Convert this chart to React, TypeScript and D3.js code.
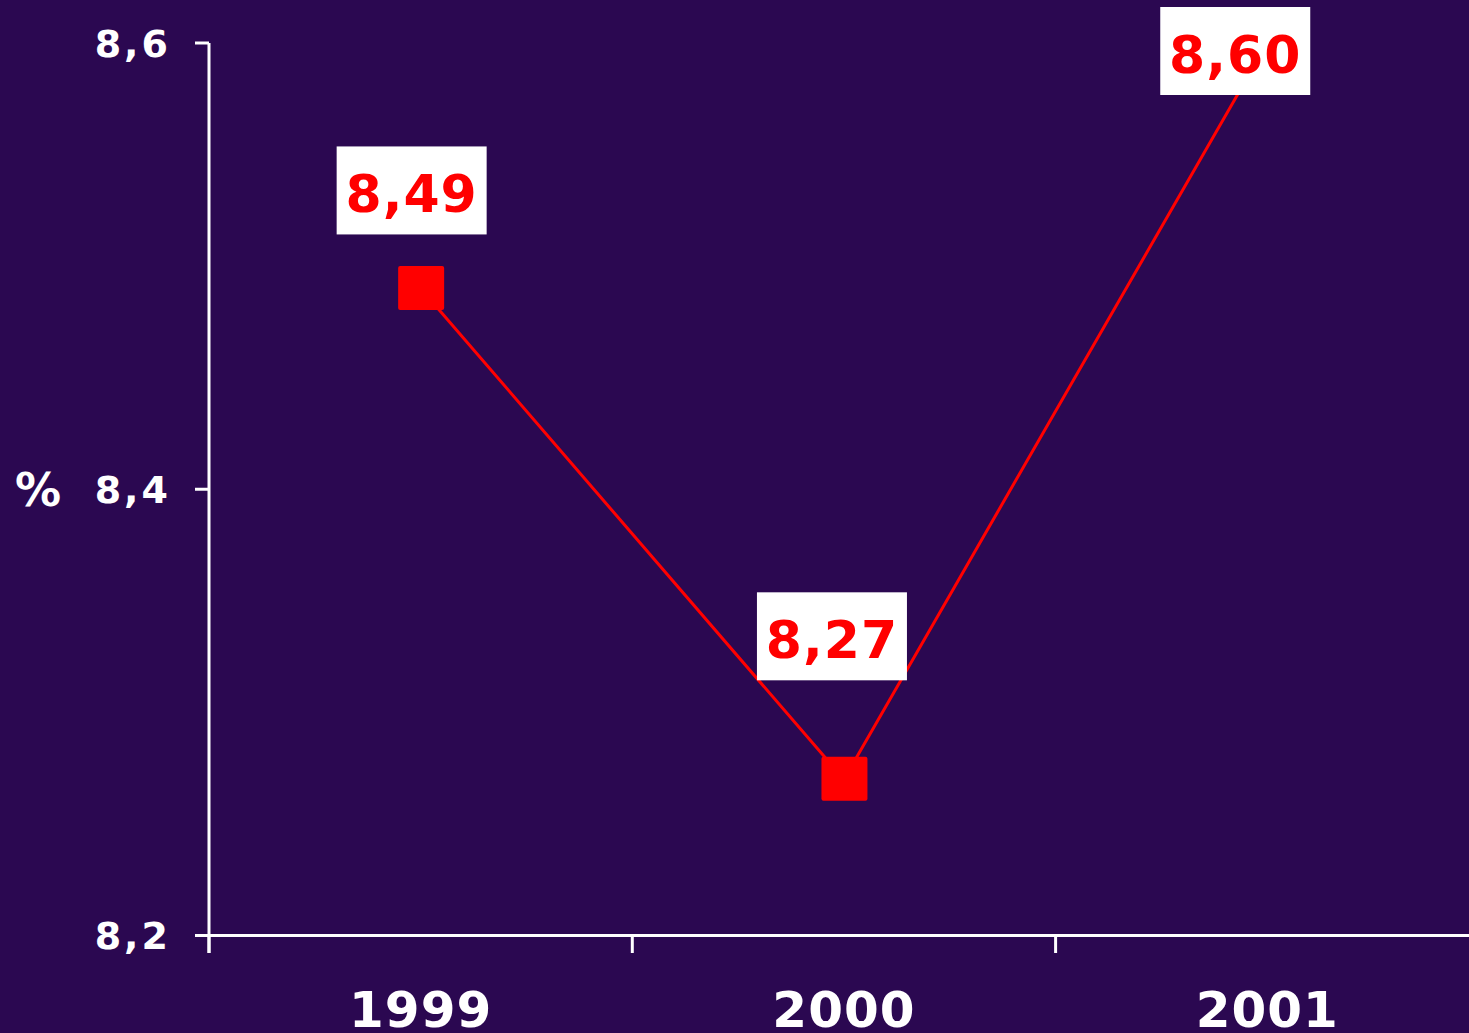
import React, { useEffect } from "react";
import * as d3 from "d3";

const categories = ["1999", "2000", "2001"];
const values = [8.49, 8.27, 8.6];
const valueLabels = ["8,49", "8,27", "8,60"];
const yTicks = [8.2, 8.4, 8.6];
const yTickLabels = ["8,2", "8,4", "8,6"];
const yAxisTitle = "%";
// label box offsets relative to point (style/annotation placement)
const labelDx = [-9, -12, -32];
const labelDy = [-98, -143, 8];

const W = 1469;
const H = 1033;
const BG = "#2B0851";
const FONT = "'DejaVu Sans', Verdana, sans-serif";

export default function App() {
  useEffect(() => {
    document.body.style.margin = "0";
    document.body.style.overflow = "hidden";
  }, []);

  const x0 = 209;
  const band = 423.3;
  const x = d3
    .scaleBand<string>()
    .domain(categories)
    .range([x0, x0 + band * categories.length])
    .padding(0);
  const y = d3.scaleLinear().domain([8.2, 8.6]).range([935.5, 43]);

  const pts = categories.map((c, i) => [x(c)! + x.bandwidth() / 2, y(values[i])] as [number, number]);
  const line = d3.line<[number, number]>()(pts) || "";

  const boxW = 150;
  const boxH = 88;
  const mk = 45;

  return (
    <svg width={W} height={H} style={{ position: "fixed", left: 0, top: 0, display: "block" }} fontFamily={FONT}>
      <rect x={0} y={0} width={W} height={H} fill={BG} />
      {/* y axis */}
      <line x1={x0} x2={x0} y1={y(8.6)} y2={953} stroke="#fff" strokeWidth={3} />
      {yTicks.map((t, i) => (
        <g key={t}>
          <line x1={195} x2={x0} y1={y(t)} y2={y(t)} stroke="#fff" strokeWidth={3} />
          <text
            x={171}
            y={y(t)}
            dy="0.36em"
            textAnchor="end"
            fill="#fff"
            fontWeight="bold"
            fontSize={38}
            letterSpacing={3}
          >
            {yTickLabels[i]}
          </text>
        </g>
      ))}
      <text x={38} y={y(8.4)} dy="0.36em" textAnchor="middle" fill="#fff" fontWeight="bold" fontSize={46}>
        {yAxisTitle}
      </text>
      {/* x axis */}
      <line x1={x0} x2={W} y1={y(8.2)} y2={y(8.2)} stroke="#fff" strokeWidth={3} />
      {categories.map((c, i) => (
        <g key={c}>
          <line x1={x(c)!} x2={x(c)!} y1={y(8.2)} y2={953} stroke="#fff" strokeWidth={3} />
          <text
            x={x(c)! + x.bandwidth() / 2}
            y={1027}
            textAnchor="middle"
            fill="#fff"
            fontWeight="bold"
            fontSize={50}
            letterSpacing={1}
          >
            {c}
          </text>
        </g>
      ))}
      {/* line */}
      <path d={line} fill="none" stroke="#FF0000" strokeWidth={3} />
      {pts.map((p, i) => (
        <rect key={i} x={p[0] - mk / 2} y={p[1] - mk / 2} width={mk + 1} height={mk - 1} rx={2} fill="#FF0000" />
      ))}
      {pts.map((p, i) => {
        const cx = p[0] + labelDx[i];
        const cy = p[1] + labelDy[i];
        return (
          <g key={"l" + i}>
            <rect x={cx - boxW / 2} y={cy - boxH / 2} width={boxW} height={boxH} fill="#fff" />
            <text
              x={cx}
              y={cy + 22}
              textAnchor="middle"
              fill="#FF0000"
              fontWeight="bold"
              fontSize={52}
              letterSpacing={1}
            >
              {valueLabels[i]}
            </text>
          </g>
        );
      })}
    </svg>
  );
}
